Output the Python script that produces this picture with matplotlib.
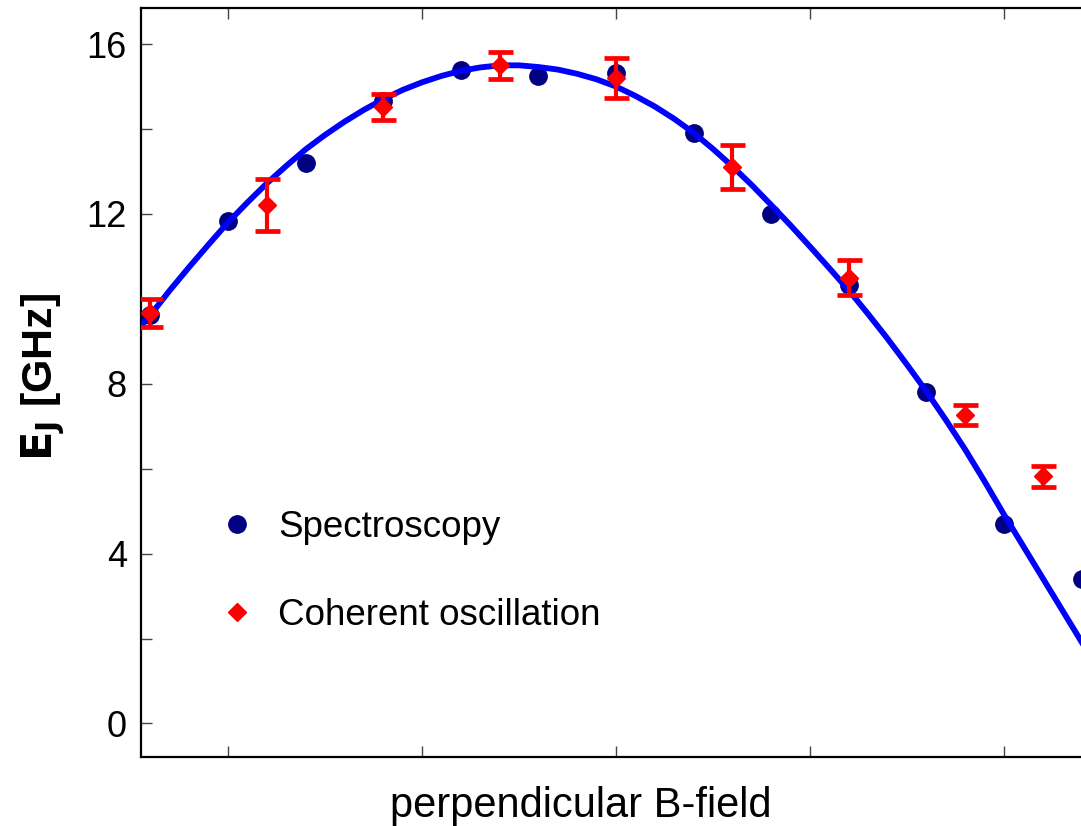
import matplotlib
matplotlib.use("Agg")
import matplotlib.pyplot as plt
from matplotlib.lines import Line2D

# spectroscopy points
spec_x = [0.6, 1.0, 1.4, 1.8, 2.2, 2.6, 3.0, 3.4, 3.8, 4.2, 4.6, 5.0, 5.4]
spec_y = [9.62, 11.84, 13.19, 14.66, 15.39, 15.26, 15.31, 13.90, 11.99, 10.32, 7.81, 4.69, 3.41]

# coherent oscillation points with errors
coh_x = [0.6, 1.2, 1.8, 2.4, 3.0, 3.6, 4.2, 4.8, 5.2]
coh_y = [9.67, 12.21, 14.52, 15.50, 15.20, 13.11, 10.50, 7.26, 5.82]
coh_err = [0.33, 0.61, 0.31, 0.32, 0.48, 0.52, 0.42, 0.23, 0.24]

# fit curve
fit_x = [0.55, 0.6, 0.7, 0.8, 0.9, 1.0, 1.1, 1.2, 1.3, 1.4, 1.5, 1.6, 1.7, 1.8, 1.9,
         2.0, 2.1, 2.2, 2.3, 2.4, 2.5, 2.6, 2.7, 2.8, 2.9, 3.0, 3.1, 3.2, 3.3, 3.4,
         3.5, 3.6, 3.7, 3.8, 3.9, 4.0, 4.1, 4.2, 4.3, 4.4, 4.5, 4.6, 4.7, 4.8, 4.9,
         5.0, 5.1, 5.2, 5.3, 5.4, 5.5]
fit_y = [9.34, 9.62, 10.20, 10.75, 11.28, 11.80, 12.27, 12.72, 13.13, 13.52, 13.86, 14.17,
         14.45, 14.70, 14.92, 15.10, 15.25, 15.37, 15.45, 15.50, 15.50, 15.46, 15.40, 15.30,
         15.17, 15.00, 14.78, 14.53, 14.24, 13.91, 13.53, 13.12, 12.68, 12.21, 11.73, 11.23,
         10.72, 10.20, 9.64, 9.06, 8.45, 7.82, 7.15, 6.45, 5.70, 4.92, 4.17, 3.42, 2.67,
         1.92, 1.17]

y_ticks = [0, 2, 4, 6, 8, 10, 12, 14, 16]
y_labels = ['0', '', '4', '', '8', '', '12', '', '16']
x_ticks = [1, 2, 3, 4, 5]

plt.rcParams['font.family'] = ['Liberation Sans', 'DejaVu Sans']

fig = plt.figure(figsize=(10.81, 8.26), dpi=100)
ax = fig.add_axes([140.7 / 1081, 69 / 826, 960.3 / 1081, 749 / 826])

ax.plot(spec_x, spec_y, 'o', color='#000080', ms=12.5, zorder=2)
ax.plot(fit_x, fit_y, color='#0000ff', lw=4.2, zorder=3)
ax.errorbar(coh_x, coh_y, yerr=coh_err, fmt='D', color='#ff0000', ms=9.5,
            elinewidth=3, capsize=9, capthick=3.4, zorder=4)

ax.set_xlim(0.55, 5.5)
ax.set_ylim(-0.79, 16.85)
ax.set_xticks(x_ticks)
ax.set_xticklabels([])
ax.set_yticks(y_ticks)
ax.set_yticklabels(y_labels)
ax.tick_params(direction='in', length=8, width=1, color='#444444',
               top=True, right=True, labelsize=26, pad=10)
for s in ax.spines.values():
    s.set_linewidth(1.6)

ax.set_xlabel('perpendicular B-field', fontsize=30)
ax.xaxis.set_label_coords(0.4585, -0.039)
ax.set_ylabel(r'$\mathbf{E_J}$ [GHz]', fontsize=31, fontweight='bold')
ax.yaxis.set_label_coords(-0.077, 0.507)

handles = [
    Line2D([], [], ls='none', marker='o', color='#000080', ms=12.5),
    Line2D([], [], ls='none', marker='D', color='#ff0000', ms=9.5),
]
ax.legend(handles, ['Spectroscopy', 'Coherent oscillation'], loc='upper left',
          bbox_to_anchor=(0.0467, 0.374), frameon=False, fontsize=26.5,
          handlelength=1.0, handletextpad=0.61, labelspacing=1.44)

fig.savefig('out.png', dpi=100)
